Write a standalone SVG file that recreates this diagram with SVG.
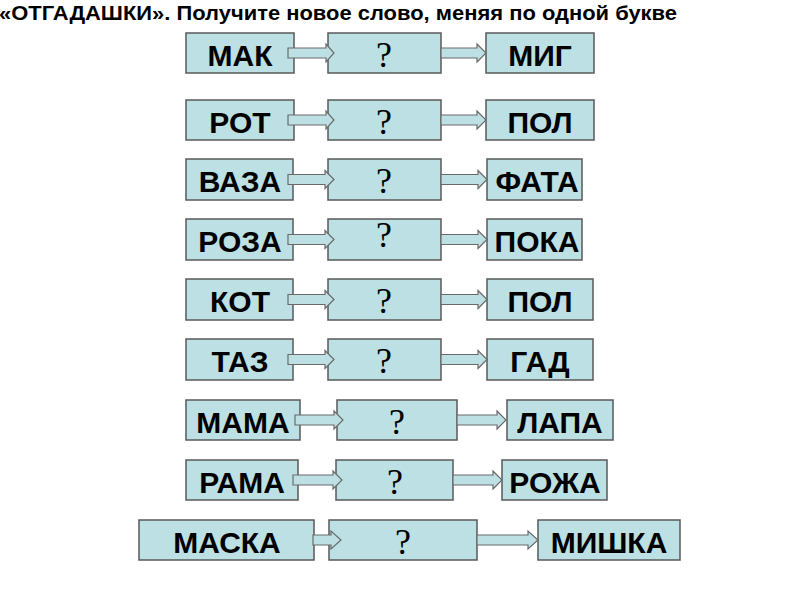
<svg xmlns="http://www.w3.org/2000/svg" width="800" height="600" viewBox="0 0 800 600">
<style>
.box{fill:#BCE0E3;stroke:#5a5a5a;stroke-width:1.5}
.w{font-family:"Liberation Sans",Arial,sans-serif;font-weight:bold;font-size:30px;fill:#000;text-anchor:middle}
.q{font-family:"Liberation Serif","DejaVu Serif",serif;font-size:36px;fill:#000;text-anchor:middle}
.arr{fill:#BCE0E3;stroke:#6a6a6a;stroke-width:1.2;stroke-linejoin:miter}
.title{font-family:"Liberation Sans",Arial,sans-serif;font-weight:bold;font-size:20px;fill:#000}
</style>
<rect width="800" height="600" fill="#fff"/>
<text class="title" x="-1" y="20" textLength="678" lengthAdjust="spacingAndGlyphs">«ОТГАДАШКИ». Получите новое слово, меняя по одной букве</text>

<g id="r1a"><rect class="box" x="186" y="33" width="108" height="40"/><text class="w" x="240" y="66">МАК</text></g>
<g id="r1b"><rect class="box" x="328" y="33" width="113" height="40"/><text class="q" x="384" y="67">?</text></g>
<g id="r1c"><rect class="box" x="486" y="33" width="108" height="40"/><text class="w" x="540" y="66">МИГ</text></g>

<g id="r2a"><rect class="box" x="186" y="100" width="108" height="40"/><text class="w" x="240" y="133">РОТ</text></g>
<g id="r2b"><rect class="box" x="328" y="100" width="113" height="40"/><text class="q" x="384" y="134">?</text></g>
<g id="r2c"><rect class="box" x="486" y="100" width="108" height="40"/><text class="w" x="540" y="133">ПОЛ</text></g>

<g id="r3a"><rect class="box" x="186" y="159" width="107" height="41"/><text class="w" x="240" y="192">ВАЗА</text></g>
<g id="r3b"><rect class="box" x="328" y="159" width="113" height="41"/><text class="q" x="384" y="193">?</text></g>
<g id="r3c"><rect class="box" x="487" y="159" width="95" height="41"/><text class="w" x="537" y="192">ФАТА</text></g>

<g id="r4a"><rect class="box" x="186" y="219" width="107" height="41"/><text class="w" x="240" y="252">РОЗА</text></g>
<g id="r4b"><rect class="box" x="328" y="219" width="113" height="41"/><text class="q" x="384" y="247">?</text></g>
<g id="r4c"><rect class="box" x="487" y="219" width="95" height="41"/><text class="w" x="537" y="252">ПОКА</text></g>

<g id="r5a"><rect class="box" x="186" y="279" width="107" height="41"/><text class="w" x="240" y="312">КОТ</text></g>
<g id="r5b"><rect class="box" x="328" y="279" width="113" height="41"/><text class="q" x="384" y="313">?</text></g>
<g id="r5c"><rect class="box" x="487" y="279" width="106" height="41"/><text class="w" x="540" y="312">ПОЛ</text></g>

<g id="r6a"><rect class="box" x="186" y="339" width="107" height="41"/><text class="w" x="240" y="372">ТАЗ</text></g>
<g id="r6b"><rect class="box" x="328" y="339" width="113" height="41"/><text class="q" x="384" y="373">?</text></g>
<g id="r6c"><rect class="box" x="487" y="339" width="106" height="41"/><text class="w" x="540" y="372">ГАД</text></g>

<g id="r7a"><rect class="box" x="186" y="400" width="114" height="40"/><text class="w" x="243" y="433">МАМА</text></g>
<g id="r7b"><rect class="box" x="337" y="400" width="120" height="40"/><text class="q" x="397" y="434">?</text></g>
<g id="r7c"><rect class="box" x="507" y="400" width="106" height="40"/><text class="w" x="560" y="433">ЛАПА</text></g>

<g id="r8a"><rect class="box" x="186" y="460" width="112" height="40"/><text class="w" x="242" y="493">РАМА</text></g>
<g id="r8b"><rect class="box" x="336" y="460" width="117" height="40"/><text class="q" x="395" y="494">?</text></g>
<g id="r8c"><rect class="box" x="502" y="460" width="105" height="40"/><text class="w" x="555" y="493">РОЖА</text></g>

<g id="r9a"><rect class="box" x="139" y="520" width="175" height="40"/><text class="w" x="227" y="553">МАСКА</text></g>
<g id="r9b"><rect class="box" x="329" y="520" width="148" height="40"/><text class="q" x="403" y="554">?</text></g>
<g id="r9c"><rect class="box" x="538" y="520" width="142" height="40"/><text class="w" x="609" y="553">МИШКА</text></g>

<g id="connectors">
<path class="arr" d="M288,48 H326 V44 L334,53 L326,62 V58 H288 Z"/>
<path class="arr" d="M441,48 H477 V44 L486,53 L477,62 V58 H441 Z"/>
<path class="arr" d="M288,115 H326 V111 L334,120 L326,129 V125 H288 Z"/>
<path class="arr" d="M441,115 H477 V111 L486,120 L477,129 V125 H441 Z"/>
<path class="arr" d="M288,174.5 H325 V170.5 L334,179.5 L325,188.5 V184.5 H288 Z"/>
<path class="arr" d="M441,174.5 H478 V170.5 L487,179.5 L478,188.5 V184.5 H441 Z"/>
<path class="arr" d="M288,234.5 H325 V230.5 L334,239.5 L325,248.5 V244.5 H288 Z"/>
<path class="arr" d="M441,234.5 H478 V230.5 L487,239.5 L478,248.5 V244.5 H441 Z"/>
<path class="arr" d="M288,294.5 H325 V290.5 L334,299.5 L325,308.5 V304.5 H288 Z"/>
<path class="arr" d="M441,294.5 H478 V290.5 L487,299.5 L478,308.5 V304.5 H441 Z"/>
<path class="arr" d="M288,354.5 H325 V350.5 L334,359.5 L325,368.5 V364.5 H288 Z"/>
<path class="arr" d="M441,354.5 H478 V350.5 L487,359.5 L478,368.5 V364.5 H441 Z"/>
<path class="arr" d="M295,415 H334 V411 L343,420 L334,429 V425 H295 Z"/>
<path class="arr" d="M457,415 H497 V411 L506,420 L497,429 V425 H457 Z"/>
<path class="arr" d="M293,475 H333 V471 L342,480 L333,489 V485 H293 Z"/>
<path class="arr" d="M453,475 H493 V471 L502,480 L493,489 V485 H453 Z"/>
<path class="arr" d="M313,535 H331 V531 L341,540 L331,549 V545 H313 Z"/>
<path class="arr" d="M477,535 H528 V531 L538,540 L528,549 V545 H477 Z"/>
</g>
</svg>
